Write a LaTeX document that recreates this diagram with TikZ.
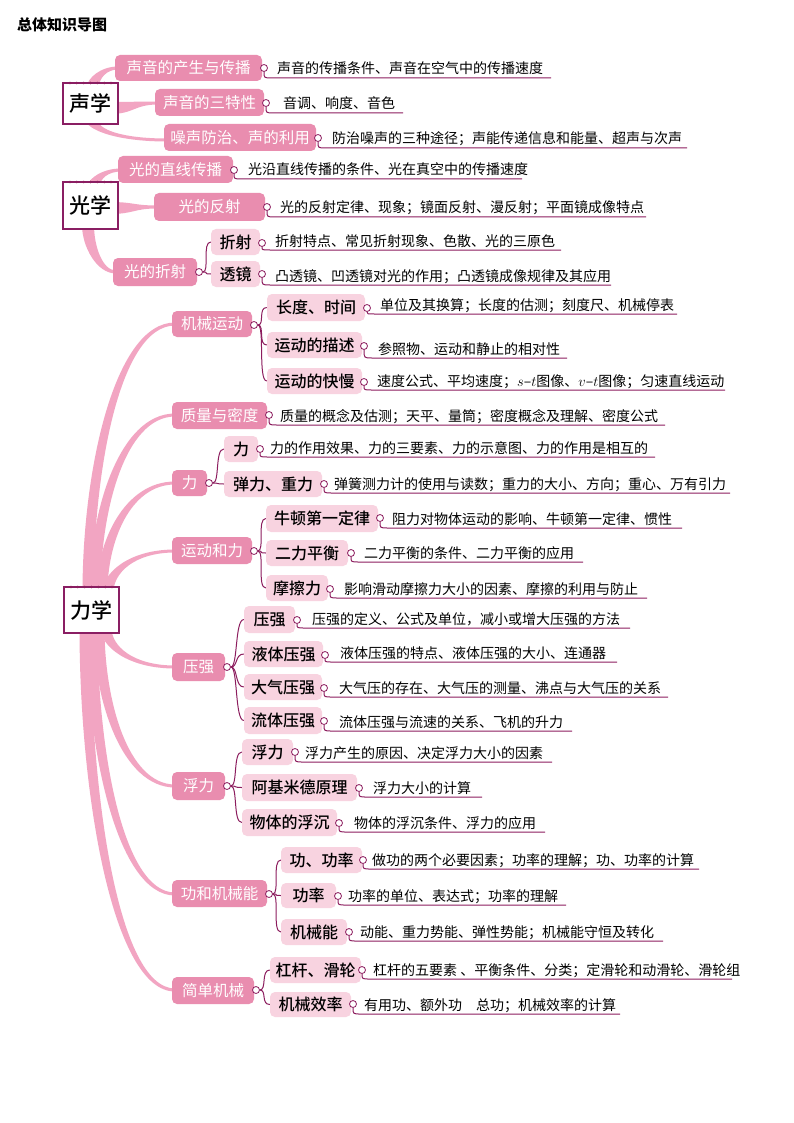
\documentclass[tikz,border=0pt]{standalone}
\usepackage{fontspec}
\setmainfont{Noto Sans CJK SC}
\newfontfamily\medfont{Noto Sans CJK SC Medium}
\usetikzlibrary{calc}
\definecolor{pkA}{HTML}{E98DAF}
\definecolor{pkB}{HTML}{F8D3E0}
\definecolor{brc}{HTML}{F2A5C2}
\definecolor{dkm}{HTML}{8C1D5E}
\definecolor{rootc}{HTML}{8A1E63}
\tikzset{
  lvA/.style={fill=pkA, rounded corners=5pt, text=white, font=\fontsize{15.5}{18}\selectfont, inner sep=0pt},
  lvB/.style={fill=pkB, rounded corners=5pt, text=black, font=\medfont\fontsize{16}{19}\selectfont, inner sep=0pt},
  rootbox/.style={draw=rootc, line width=1.2pt, fill=white, text=black, font=\medfont\fontsize{21}{24}\selectfont, inner sep=0pt},
  cdot/.style={circle, draw=dkm, fill=white, line width=0.8pt, minimum size=7pt, inner sep=0pt},
  dtext/.style={font=\fontsize{14}{16}\selectfont, inner sep=0pt, text=black},
  uline/.style={draw=dkm, line width=1pt},
  subline/.style={draw=dkm, line width=1pt},
}
\newcommand\bx[7]{\pgfmathsetmacro\bw{#5-#3}\pgfmathsetmacro\bh{#6-#4}%
  \node[#1, minimum width=\bw pt, minimum height=\bh pt] (#2) at ({(#3+#5)/2},{(#4+#6)/2}) {#7};}
\newcommand\rootbx[6]{\bx{rootbox}{#1}{#2}{#3}{#4}{#5}{#6}%
  \foreach \i in {0,...,6} \fill[dkm] ({#2+7+\i*(#4-#2-14)/6},#3) circle (1.4);}
\newcommand\cdt[3]{\node[cdot] (#1) at (#2,#3) {};}
\newcommand\desc[7]{%
  \node[cdot] (c#1) at (#2,#3) {};
  \node[dtext, anchor=base west] (d#1) at (#4,{#5-4}) {#7};
  \coordinate (e#1) at (#6,#5);
  \draw[uline] (c#1.south) .. controls ({#2},{#5}) .. ({#2+8},{#5}) -- (e#1);}
\newcommand\sub[2]{\draw[subline] (#1.east) .. controls +(7,0) and +(-9,0) .. (#2.west);}
\newcommand\vbr[6]{%
  \fill[brc] ({#1-#5},#2) .. controls ({#1-#5},{#2+0.45*(#4-#2)}) and ({#1+0.3*(#3-#1)},{#4-#6*1.5}) .. (#3,{#4-#6*1.5})
   -- (#3,{#4+#6*1.5}) .. controls ({#1+0.3*(#3-#1)+#5},{#4+#6*1.5}) and ({#1+#5},{#2+0.45*(#4-#2)}) .. ({#1+#5},#2) -- cycle;}
\newcommand\hbr[5]{%
  \fill[brc] (#1,{#2-#5}) .. controls ({(#1+#3)/2},{#2-#5}) and ({(#1+#3)/2},{#4-1.5}) .. (#3,{#4-1.5})
   -- (#3,{#4+1.5}) .. controls ({(#1+#3)/2},{#4+1.5}) and ({(#1+#3)/2},{#2+#5}) .. (#1,{#2+#5}) -- cycle;}
\begin{document}
\begin{tikzpicture}[x=1pt,y=-1pt]
\useasboundingbox (0,0) rectangle (794,1123);
\fill[white] (0,0) rectangle (794,1123);
\node[anchor=west, inner sep=0pt, font=\fontsize{15}{18}\selectfont\bfseries] (title) at (17,25) {总体知识导图};

% ---------- branches ----------
\vbr{93}{87}{118}{68}{6}{1}
\hbr{110}{108}{158}{103}{6}
\vbr{92}{120}{167}{140}{6}{-1}
\vbr{94}{186}{121}{170}{6}{1}
\hbr{110}{208}{157}{207}{6}
\vbr{88}{225}{116}{272}{6}{-1}
\vbr{88}{592}{175}{324}{5.5}{1}
\vbr{95}{592}{175}{415}{5.5}{1}
\vbr{102}{592}{175}{483}{5.5}{1}
\vbr{108}{592}{175}{551}{5.5}{1}
\vbr{106}{628}{175}{667}{5.5}{-1}
\vbr{99}{628}{175}{786}{5.5}{-1}
\vbr{92}{628}{175}{894}{5.5}{-1}
\vbr{85}{628}{175}{990}{5.5}{-1}

% ---------- roots ----------
\rootbx{rs}{63}{83}{118}{124}{声学}
\rootbx{ro}{63}{182}{118}{229}{光学}
\rootbx{rm}{64}{587}{119}{633}{力学}

% ---------- sound ----------
\bx{lvA}{s1}{115}{55}{262}{81}{声音的产生与传播}
\desc{s1}{264}{68}{277}{78}{551}{声音的传播条件、声音在空气中的传播速度}
\bx{lvA}{s2}{155}{89}{264}{116}{声音的三特性}
\desc{s2}{266}{103}{283}{113}{403}{音调、响度、音色}
\bx{lvA}{s3}{164}{124}{316}{151}{噪声防治、声的利用}
\desc{s3}{318}{138}{332}{148}{687}{防治噪声的三种途径；声能传递信息和能量、超声与次声}

% ---------- optics ----------
\bx{lvA}{o1}{118}{156}{233}{183}{光的直线传播}
\desc{o1}{234}{170}{248}{179}{522}{光沿直线传播的条件、光在真空中的传播速度}
\bx{lvA}{o2}{154}{193}{265}{221}{光的反射}
\desc{o2}{267}{207}{280}{217}{646}{光的反射定律、现象；镜面反射、漫反射；平面镜成像特点}
\bx{lvA}{o3}{113}{258}{197}{286}{光的折射}
\cdt{co3}{199}{272}
\bx{lvB}{o31}{211}{229}{260}{255}{折射}
\desc{o31}{262}{243}{275}{250}{561}{折射特点、常见折射现象、色散、光的三原色}
\bx{lvB}{o32}{211}{261}{260}{287}{透镜}
\desc{o32}{262}{274}{275}{285}{611}{凸透镜、凹透镜对光的作用；凸透镜成像规律及其应用}
\sub{co3}{o31}\sub{co3}{o32}

% ---------- mechanics ----------
\bx{lvA}{m1}{172}{311}{252}{337}{机械运动}
\cdt{cm1}{254}{325}
\bx{lvB}{m11}{267}{294}{365}{321}{长度、时间}
\desc{m11}{367}{308}{380}{314}{677}{单位及其换算；长度的估测；刻度尺、机械停表}
\bx{lvB}{m12}{267}{332}{362}{358}{运动的描述}
\desc{m12}{364}{346}{378}{358}{567}{参照物、运动和静止的相对性}
\bx{lvB}{m13}{267}{368}{362}{394}{运动的快慢}
\desc{m13}{364}{382}{377}{390}{725}{速度公式、平均速度；$s$–$t$图像、$v$–$t$图像；匀速直线运动}
\sub{cm1}{m11}\sub{cm1}{m12}\sub{cm1}{m13}

\bx{lvA}{m2}{172}{402}{267}{429}{质量与密度}
\desc{m2}{269}{415}{280}{425}{665}{质量的概念及估测；天平、量筒；密度概念及理解、密度公式}

\bx{lvA}{m3}{172}{470}{207}{496}{力}
\cdt{cm3}{209}{483}
\bx{lvB}{m31}{224}{436}{258}{462}{力}
\desc{m31}{260}{449}{270}{457}{655}{力的作用效果、力的三要素、力的示意图、力的作用是相互的}
\bx{lvB}{m32}{224}{471}{322}{497}{弹力、重力}
\desc{m32}{324}{484}{334}{493}{730}{弹簧测力计的使用与读数；重力的大小、方向；重心、万有引力}
\sub{cm3}{m31}\sub{cm3}{m32}

\bx{lvA}{m4}{172}{537}{252}{564}{运动和力}
\cdt{cm4}{254}{551}
\bx{lvB}{m41}{266}{505}{378}{532}{牛顿第一定律}
\desc{m41}{380}{518}{392}{528}{682}{阻力对物体运动的影响、牛顿第一定律、惯性}
\bx{lvB}{m42}{266}{540}{348}{566}{二力平衡}
\desc{m42}{351}{553}{364}{562}{583}{二力平衡的条件、二力平衡的应用}
\bx{lvB}{m43}{266}{575}{328}{601}{摩擦力}
\desc{m43}{330}{589}{344}{598}{647}{影响滑动摩擦力大小的因素、摩擦的利用与防止}
\sub{cm4}{m41}\sub{cm4}{m42}\sub{cm4}{m43}

\bx{lvA}{m5}{172}{653}{225}{681}{压强}
\cdt{cm5}{227}{667}
\bx{lvB}{m51}{244}{606}{295}{633}{压强}
\desc{m51}{297}{620}{312}{628}{630}{压强的定义、公式及单位，减小或增大压强的方法}
\bx{lvB}{m52}{244}{641}{323}{667}{液体压强}
\desc{m52}{325}{655}{340}{662}{617}{液体压强的特点、液体压强的大小、连通器}
\bx{lvB}{m53}{244}{674}{322}{700}{大气压强}
\desc{m53}{324}{688}{339}{697}{668}{大气压的存在、大气压的测量、沸点与大气压的关系}
\bx{lvB}{m54}{244}{707}{322}{734}{流体压强}
\desc{m54}{324}{721}{339}{731}{572}{流体压强与流速的关系、飞机的升力}
\sub{cm5}{m51}\sub{cm5}{m52}\sub{cm5}{m53}\sub{cm5}{m54}

\bx{lvA}{m6}{172}{772}{225}{800}{浮力}
\cdt{cm6}{227}{786}
\bx{lvB}{m61}{242}{739}{293}{765}{浮力}
\desc{m61}{295}{752}{305}{762}{552}{浮力产生的原因、决定浮力大小的因素}
\bx{lvB}{m62}{242}{774}{357}{801}{阿基米德原理}
\desc{m62}{359}{788}{373}{797}{482}{浮力大小的计算}
\bx{lvB}{m63}{242}{809}{337}{836}{物体的浮沉}
\desc{m63}{339}{823}{354}{832}{545}{物体的浮沉条件、浮力的应用}
\sub{cm6}{m61}\sub{cm6}{m62}\sub{cm6}{m63}

\bx{lvA}{m7}{172}{880}{267}{907}{功和机械能}
\cdt{cm7}{269}{894}
\bx{lvB}{m71}{281}{847}{362}{873}{功、功率}
\desc{m71}{363}{860}{372}{869}{699}{做功的两个必要因素；功率的理解；功、功率的计算}
\bx{lvB}{m72}{281}{883}{336}{908}{功率}
\desc{m72}{338}{896}{348}{905}{566}{功率的单位、表达式；功率的理解}
\bx{lvB}{m73}{281}{919}{347}{945}{机械能}
\desc{m73}{349}{932}{360}{941}{663}{动能、重力势能、弹性势能；机械能守恒及转化}
\sub{cm7}{m71}\sub{cm7}{m72}\sub{cm7}{m73}

\bx{lvA}{m8}{172}{977}{254}{1004}{简单机械}
\cdt{cm8}{256}{990}
\bx{lvB}{m81}{270}{957}{361}{983}{杠杆、滑轮}
\desc{m81}{362}{970}{373}{979}{732}{杠杆的五要素 、平衡条件、分类；定滑轮和动滑轮、滑轮组}
\bx{lvB}{m82}{270}{992}{351}{1017}{机械效率}
\desc{m82}{353}{1004}{364}{1014}{620}{有用功、额外功　总功；机械效率的计算}
\sub{cm8}{m81}\sub{cm8}{m82}
\end{tikzpicture}
\end{document}
